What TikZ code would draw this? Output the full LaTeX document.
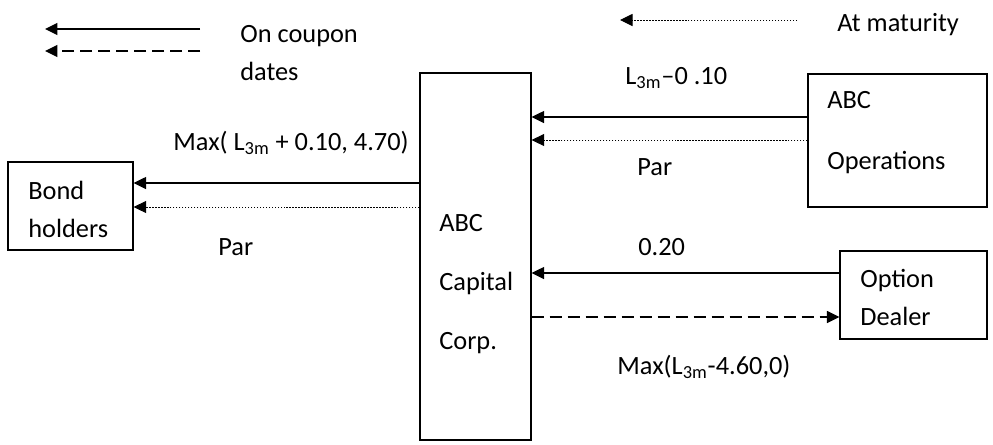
\documentclass[tikz,border=0pt]{standalone}
\usepackage{fontspec}
\setmainfont{Carlito}
\usepackage{tikz}
\usetikzlibrary{arrows.meta,positioning,calc}

\begin{document}
\begin{tikzpicture}[
    x=0.02cm, y=-0.02cm,
    font=\fontsize{15}{18}\selectfont,
    box/.style={draw, line width=0.7pt, inner sep=0pt},
    txt/.style={anchor=west, inner sep=0pt, align=left},
    flow/.style={line width=0.75pt, -{Triangle[length=0.25cm, width=0.24cm]}},
    coupon/.style={flow},
    optpay/.style={flow, dash pattern=on 0.24cm off 0.12cm},
    maturity/.style={flow, line width=0.55pt, dash pattern=on 0.85pt off 0.85pt}
]
    \useasboundingbox (0,0) rectangle (993,444);

    % legend
    \coordinate (solidR) at (200,29);
    \coordinate (solidL) at (45,29);
    \coordinate (dashR) at (200,51);
    \coordinate (dashL) at (45,51);
    \coordinate (dotR) at (797,20);
    \coordinate (dotL) at (620,20);
    \draw[coupon] (solidR) -- (solidL);
    \draw[optpay] (dashR) -- (dashL);
    \draw[maturity] (dotR) -- (dotL);
    \node[txt] (legcoupon) at (240,53) {On coupon\\[3.6pt]dates};
    \node[txt] (legmaturity) at (837,25) {At maturity};

    % parties
    \node[box, minimum width=2.22cm, minimum height=7.34cm] (corp) at (475.5,256.5) {};
    \node[box, minimum width=2.5cm, minimum height=1.76cm] (holders) at (70.5,206) {};
    \node[box, minimum width=3.58cm, minimum height=2.66cm] (ops) at (897.5,140.5) {};
    \node[box, minimum width=2.94cm, minimum height=1.76cm] (dealer) at (913.5,295) {};

    \node[txt] (corptext) at (439,284) {ABC\\[15.5pt]Capital\\[15.5pt]Corp.};
    \node[txt] (holderstext) at (28,209) {Bond\\[3.6pt]holders};
    \node[txt] (opstext) at (827,132.5) {ABC\\[16.7pt]Operations};
    \node[txt] (dealertext) at (860,297) {Option\\[3.6pt]Dealer};

    % cash flows
    \draw[coupon] (ops.west |- 0,117) -- (corp.east |- 0,117);
    \draw[maturity] (ops.west |- 0,140) -- (corp.east |- 0,140);
    \draw[coupon] (corp.west |- 0,183) -- (holders.east |- 0,183);
    \draw[maturity] (corp.west |- 0,207) -- (holders.east |- 0,207);
    \draw[coupon] (dealer.west |- 0,273) -- (corp.east |- 0,273);
    \draw[optpay] (corp.east |- 0,317) -- (dealer.west |- 0,317);

    \node[txt] (opscoupon) at (625,78) {L\textsubscript{3m}–0 .10};
    \node[txt] (opspar) at (637,167) {Par};
    \node[txt] (holderscoupon) at (173,143) {Max( L\textsubscript{3m} + 0.10, 4.70)};
    \node[txt] (holderspar) at (218,247) {Par};
    \node[txt] (premium) at (638,247) {0.20};
    \node[txt] (optpayoff) at (617,367) {Max(L\textsubscript{3m}-4.60,0)};
\end{tikzpicture}
\end{document}
